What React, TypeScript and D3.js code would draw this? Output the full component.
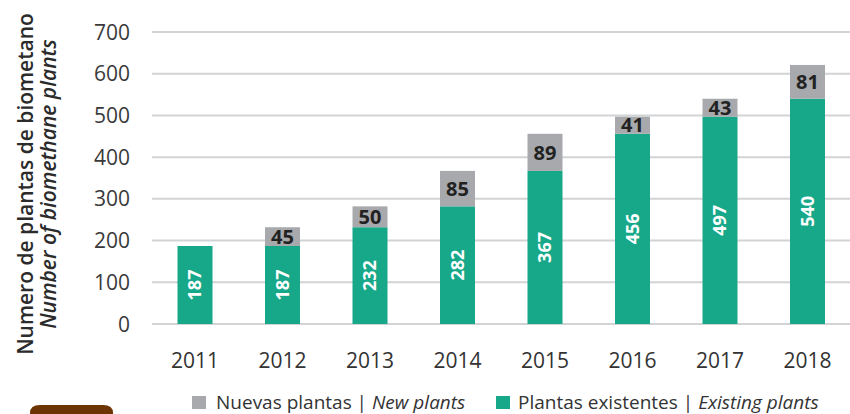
import React, { useEffect, useRef } from 'react';
import * as d3 from 'd3';

const years = ['2011', '2012', '2013', '2014', '2015', '2016', '2017', '2018'];
const existing = [187, 187, 232, 282, 367, 456, 497, 540];
const added = [0, 45, 50, 85, 89, 41, 43, 81];
const yTicks = [0, 100, 200, 300, 400, 500, 600, 700];

const GREEN = '#17a88a';
const GREY = '#a7a9ac';
const FONT = '"Open Sans", "Noto Sans", sans-serif';

const App: React.FC = () => {
  const svgRef = useRef<SVGSVGElement>(null);

  useEffect(() => {
    if (!svgRef.current) return;
    const width = 850;
    const svg = d3.select(svgRef.current);
    svg.selectAll('*').remove();

    const x = d3.scaleBand<string>()
      .domain(years)
      .range([151.25, 851.25])
      .paddingInner(0.6)
      .paddingOuter(0.3);
    const y = d3.scaleLinear().domain([0, 700]).range([324, 32]);

    // gridlines
    svg.append('g')
      .selectAll('line')
      .data(yTicks)
      .enter()
      .append('line')
      .attr('x1', 152)
      .attr('x2', width)
      .attr('y1', (d) => y(d))
      .attr('y2', (d) => y(d))
      .attr('stroke', '#d2d3d5')
      .attr('stroke-width', 2);

    // y tick labels
    svg.append('g')
      .selectAll('text')
      .data(yTicks)
      .enter()
      .append('text')
      .attr('x', 130)
      .attr('y', (d) => y(d))
      .attr('dy', '0.36em')
      .attr('text-anchor', 'end')
      .attr('font-family', FONT)
      .attr('font-size', 21)
      .attr('fill', '#3a3a3a')
      .text((d) => d);

    // y title
    const title = svg.append('g').attr('transform', 'translate(0,184) rotate(-90)');
    title.append('text')
      .attr('x', 0)
      .attr('y', 33)
      .attr('text-anchor', 'middle')
      .attr('font-family', FONT)
      .attr('font-size', 21)
      .attr('font-weight', 600)
      .attr('fill', '#2b2b2b')
      .text('Numero de plantas de biometano');
    title.append('text')
      .attr('x', 0)
      .attr('y', 56)
      .attr('text-anchor', 'middle')
      .attr('font-family', FONT)
      .attr('font-size', 21)
      .attr('font-weight', 600)
      .attr('font-style', 'italic')
      .attr('fill', '#2b2b2b')
      .text('Number of biomethane plants');

    const bars = svg.append('g');
    const bw = x.bandwidth();

    // existing (green)
    bars.selectAll('.ex')
      .data(years)
      .enter()
      .append('rect')
      .attr('x', (d) => x(d)!)
      .attr('y', (_, i) => y(existing[i]))
      .attr('width', bw)
      .attr('height', (_, i) => y(0) - y(existing[i]))
      .attr('fill', GREEN);

    // new (grey)
    bars.selectAll('.nw')
      .data(years)
      .enter()
      .append('rect')
      .attr('x', (d) => x(d)!)
      .attr('y', (_, i) => y(existing[i] + added[i]))
      .attr('width', bw)
      .attr('height', (_, i) => y(existing[i]) - y(existing[i] + added[i]))
      .attr('fill', GREY);

    // green labels (rotated)
    bars.selectAll('.exl')
      .data(years)
      .enter()
      .append('text')
      .attr('transform', (d, i) =>
        `translate(${x(d)! + bw / 2},${(y(0) + y(existing[i])) / 2}) rotate(-90)`)
      .attr('dy', '0.36em')
      .attr('text-anchor', 'middle')
      .attr('font-family', FONT)
      .attr('font-size', 18)
      .attr('font-weight', 700)
      .attr('fill', '#ffffff')
      .text((_, i) => existing[i]);

    // grey labels
    bars.selectAll('.nwl')
      .data(years.filter((_, i) => added[i] > 0))
      .enter()
      .append('text')
      .attr('x', (d) => x(d)! + bw / 2)
      .attr('y', (d) => {
        const i = years.indexOf(d);
        return (y(existing[i]) + y(existing[i] + added[i])) / 2;
      })
      .attr('dy', '0.36em')
      .attr('text-anchor', 'middle')
      .attr('font-family', FONT)
      .attr('font-size', 20)
      .attr('font-weight', 700)
      .attr('fill', '#222222')
      .text((d) => added[years.indexOf(d)]);

    // x labels
    svg.append('g')
      .selectAll('text')
      .data(years)
      .enter()
      .append('text')
      .attr('x', (d) => x(d)! + bw / 2)
      .attr('y', 368)
      .attr('text-anchor', 'middle')
      .attr('font-family', FONT)
      .attr('font-size', 21)
      .attr('fill', '#333333')
      .text((d) => d);

    // legend
    const legend = svg.append('g').attr('font-family', FONT).attr('font-size', 19).attr('fill', '#333');
    legend.append('rect').attr('x', 192).attr('y', 396).attr('width', 14).attr('height', 13).attr('fill', GREY);
    const t1 = legend.append('text').attr('x', 216).attr('y', 409);
    t1.append('tspan').text('Nuevas plantas | ');
    t1.append('tspan').attr('font-style', 'italic').text('New plants');
    legend.append('rect').attr('x', 496).attr('y', 396).attr('width', 14).attr('height', 13).attr('fill', GREEN);
    const t2 = legend.append('text').attr('x', 518).attr('y', 409);
    t2.append('tspan').text('Plantas existentes | ');
    t2.append('tspan').attr('font-style', 'italic').text('Existing plants');

    // brown tab bottom-left
    svg.append('path')
      .attr('d', 'M30,414 L30,413 Q30,405 40,405 L103,405 Q113,405 113,413 L113,414 Z')
      .attr('fill', '#6b3400');
  }, []);

  return (
    <svg
      ref={svgRef}
      width={850}
      height={414}
      style={{ position: 'absolute', left: 0, top: 0, background: '#fff' }}
    />
  );
};

export default App;
